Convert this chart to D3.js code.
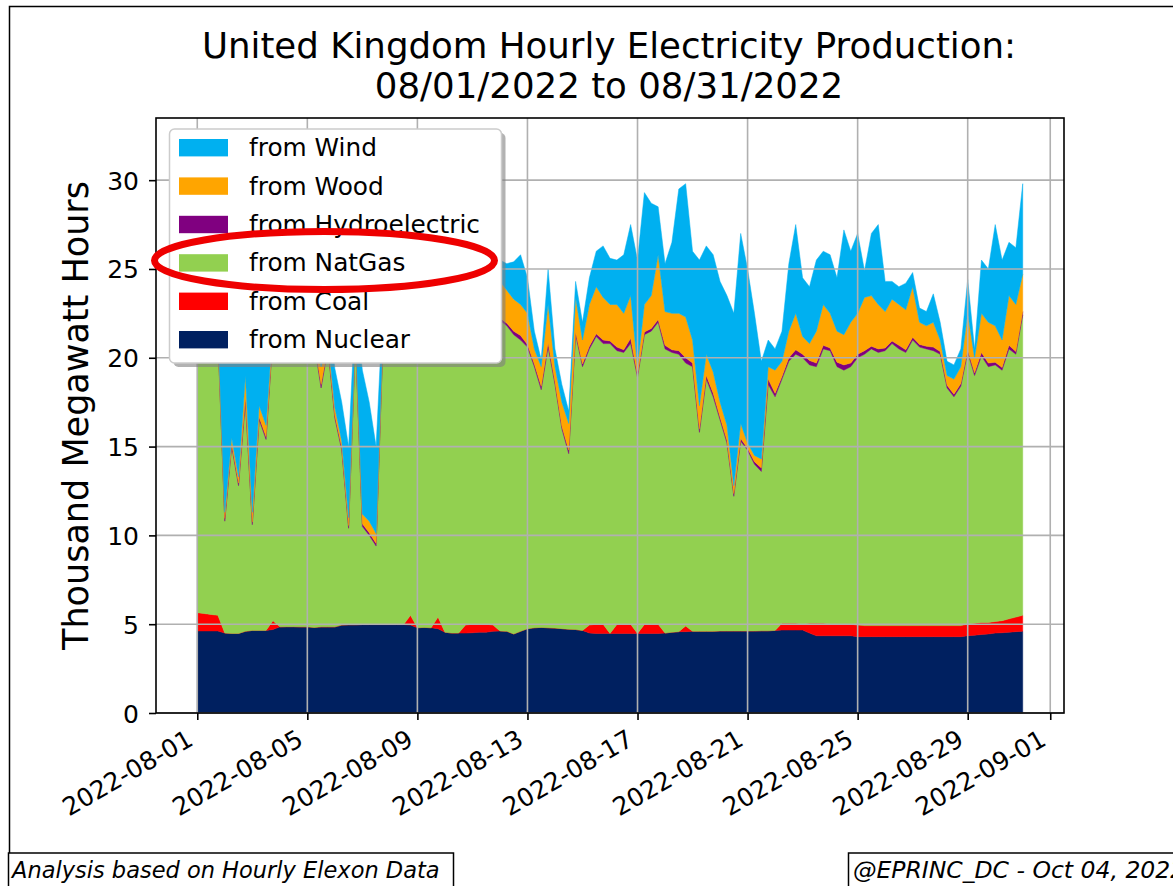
<!DOCTYPE html>
<html>
<head>
<meta charset="utf-8">
<script src="https://cdn.jsdelivr.net/npm/d3@7"></script>
<style>
  body { margin: 0; background: #fff; }
  svg text { font-family: "DejaVu Sans", sans-serif; fill: #000; }
</style>
</head>
<body>
<svg id="chart" width="1173" height="886"></svg>
<script>
// UK hourly production, sampled every 6 hours from 2022-08-01 00:00 (thousand MWh)
const startTime = "2022-08-01T00:00:00Z";
const stepHours = 6;

const nuclear = [
  4.62, 4.62, 4.62, 4.62, 4.5, 4.48, 4.48, 4.6, 4.65, 4.65, 4.65, 4.7,
  4.85, 4.86, 4.86, 4.85, 4.85, 4.82, 4.85, 4.85, 4.85, 4.95, 4.97, 4.97,
  4.98, 4.98, 4.98, 4.98, 4.98, 4.98, 4.98, 4.95, 4.8, 4.82, 4.8, 4.75,
  4.55, 4.5, 4.5, 4.5, 4.52, 4.55, 4.55, 4.6, 4.62, 4.6, 4.45, 4.6,
  4.75, 4.8, 4.82, 4.8, 4.78, 4.75, 4.72, 4.7, 4.65, 4.5, 4.48, 4.48,
  4.48, 4.48, 4.48, 4.48, 4.48, 4.48, 4.48, 4.48, 4.5, 4.55, 4.58, 4.58,
  4.6, 4.6, 4.6, 4.6, 4.62, 4.62, 4.62, 4.62, 4.62, 4.62, 4.63, 4.63,
  4.65, 4.67, 4.67, 4.67, 4.67, 4.5, 4.35, 4.35, 4.35, 4.35, 4.35, 4.35,
  4.3, 4.3, 4.3, 4.3, 4.3, 4.3, 4.3, 4.3, 4.3, 4.3, 4.3, 4.3,
  4.3, 4.3, 4.3, 4.3, 4.35, 4.38, 4.42, 4.45, 4.5, 4.52, 4.55, 4.58, 4.6
];
const coal = [
  1.03, 0.98, 0.93, 0.88, 0, 0, 0, 0, 0, 0, 0, 0.5,
  0, 0, 0, 0, 0, 0, 0, 0, 0, 0, 0, 0,
  0, 0, 0, 0, 0, 0, 0, 0.55, 0, 0, 0, 0.65,
  0, 0, 0, 0.45, 0.48, 0.45, 0.45, 0.35, 0, 0, 0, 0,
  0, 0, 0, 0, 0, 0, 0, 0, 0, 0.45, 0.52, 0.52,
  0, 0.5, 0.52, 0.52, 0, 0.5, 0.52, 0.52, 0, 0, 0, 0.32,
  0, 0, 0, 0, 0, 0, 0, 0, 0, 0, 0, 0,
  0, 0.38, 0.38, 0.38, 0.33, 0.55, 0.7, 0.7, 0.65, 0.65, 0.65, 0.65,
  0.65, 0.62, 0.62, 0.62, 0.62, 0.62, 0.62, 0.62, 0.62, 0.62, 0.62, 0.62,
  0.62, 0.62, 0.62, 0.62, 0.65, 0.67, 0.68, 0.65, 0.65, 0.68, 0.75, 0.82, 0.9
];
const natgas = [
  15.55, 15.7, 15.95, 15.7, 6.3, 10.52, 8.32, 12.9, 5.95, 11.85, 10.75, 16.0,
  16.65, 16.64, 16.54, 16.35, 16.35, 15.98, 13.45, 15.65, 11.75, 9.85, 5.43, 16.03,
  5.52, 5.02, 4.42, 16.02, 16.32, 16.52, 16.52, 15.8, 16.7, 16.78, 16.6, 16.1,
  17.05, 17.0, 17.3, 16.75, 16.9, 17.0, 16.8, 17.05, 17.48, 17.2, 16.85, 16.4,
  15.85, 14.7, 13.38, 15.8, 13.72, 11.25, 9.88, 16.6, 14.85, 15.55, 16.2, 15.8,
  16.32, 15.42, 15.3, 15.8, 14.42, 16.32, 16.5, 17.0, 16.0, 15.75, 15.62, 14.8,
  14.9, 11.2, 14.2, 13.2, 11.88, 10.58, 7.58, 10.68, 10.18, 9.38, 8.97, 13.87,
  13.15, 13.75, 14.75, 15.15, 15.0, 14.55, 14.45, 15.45, 15.4, 14.5, 14.3, 14.5,
  15.05, 15.28, 15.58, 15.38, 15.48, 15.88, 15.58, 15.38, 16.08, 15.68, 15.58, 15.48,
  15.28, 13.38, 12.88, 13.48, 15.3, 13.95, 15.0, 14.4, 14.45, 14.1, 15.2, 14.8, 16.9
];
const hydro = [
  0.15, 0.15, 0.15, 0.15, 0.15, 0.15, 0.15, 0.25, 0.15, 0.15, 0.15, 0.15,
  0.15, 0.15, 0.15, 0.15, 0.15, 0.15, 0.2, 0.15, 0.15, 0.15, 0.15, 0.15,
  0.15, 0.15, 0.15, 0.15, 0.15, 0.15, 0.15, 0.15, 0.15, 0.15, 0.15, 0.15,
  0.15, 0.15, 0.15, 0.15, 0.15, 0.15, 0.15, 0.15, 0.15, 0.15, 0.2, 0.25,
  0.15, 0.15, 0.2, 0.25, 0.15, 0.15, 0.2, 0.15, 0.15, 0.15, 0.15, 0.2,
  0.15, 0.2, 0.15, 0.3, 0.15, 0.15, 0.15, 0.15, 0.2, 0.15, 0.2, 0.3,
  0.2, 0.2, 0.2, 0.2, 0.15, 0.15, 0.15, 0.15, 0.1, 0.15, 0.2, 0.3,
  0.2, 0.15, 0.2, 0.25, 0.2, 0.25, 0.2, 0.2, 0.15, 0.25, 0.3, 0.2,
  0.2, 0.2, 0.15, 0.2, 0.15, 0.15, 0.2, 0.15, 0.15, 0.15, 0.15, 0.2,
  0.15, 0.15, 0.15, 0.15, 0.15, 0.15, 0.2, 0.2, 0.15, 0.15, 0.2, 0.15, 0.2
];
const wood = [
  0.35, 0.35, 0.35, 0.35, 0.35, 0.35, 0.35, 1.25, 0.55, 0.65, 0.65, 0.45,
  0.35, 0.45, 0.45, 0.45, 0.45, 0.35, 1.0, 0.35, 0.45, 0.35, 0.45, 0.35,
  0.55, 0.65, 0.55, 0.35, 0.55, 0.65, 0.75, 0.75, 0.85, 1.05, 1.05, 1.15,
  1.25, 1.55, 1.45, 1.35, 1.45, 1.65, 1.65, 1.85, 2.05, 1.85, 1.8, 1.75,
  1.75, 0.85, 1.1, 2.15, 0.85, 1.35, 1.5, 1.95, 1.35, 2.35, 2.65, 2.4,
  2.05, 2.4, 2.05, 2.4, 0.45, 1.55, 1.85, 3.65, 1.9, 2.05, 2.1, 2.3,
  1.3, 1.3, 1.2, 1.2, 0.85, 0.85, 0.45, 0.85, 0.3, 0.35, 0.5, 0.7,
  1.3, 0.85, 1.5, 2.05, 1.0, 0.95, 1.8, 2.3, 1.95, 1.75, 1.7, 2.3,
  2.3, 3.0, 2.85, 2.5, 2.05, 2.35, 2.3, 2.25, 2.85, 1.25, 1.15, 1.4,
  0.65, 0.55, 0.85, 0.95, 2.05, 0.85, 2.2, 2.3, 2.05, 1.55, 2.8, 2.65, 2.1
];
const wind = [
  1.3, 1.4, 1.5, 1.3, 10.7, 7.0, 8.7, 3.8, 11.2, 5.7, 7.3, 2.2,
  2.0, 2.1, 2.0, 2.0, 2.0, 2.2, 2.5, 2.0, 2.2, 2.2, 4.0, 1.5,
  8.1, 6.7, 4.9, 1.5, 2.0, 2.2, 2.4, 2.3, 2.5, 2.4, 2.4, 2.5,
  2.5, 2.4, 2.4, 2.3, 2.3, 2.2, 2.1, 1.8, 1.2, 1.5, 2.1, 2.8,
  2.0, 1.0, 0.4, 2.0, 1.0, 1.0, 0.7, 0.9, 1.0, 1.5, 2.0, 2.9,
  2.6, 2.5, 3.3, 4.0, 6.0, 6.3, 5.2, 2.7, 2.7, 4.0, 7.0, 7.5,
  5.0, 8.2, 6.1, 6.6, 6.8, 7.3, 9.7, 10.7, 9.8, 8.0, 5.5, 1.5,
  1.2, 1.7, 3.8, 5.0, 3.3, 3.2, 4.0, 3.0, 3.3, 3.0, 5.9, 4.0,
  4.5, 1.5, 3.5, 4.5, 1.7, 1.0, 1.0, 1.5, 0.8, 0.8, 0.8, 1.6,
  1.0, 0.8, 0.8, 1.0, 1.9, 0.5, 3.0, 3.0, 5.7, 4.5, 3.0, 3.2, 5.1
];

// stacking order bottom -> top, legend shows it reversed
const sources = ["nuclear", "coal", "natgas", "hydro", "wood", "wind"];
const labels = {
  nuclear: "from Nuclear", coal: "from Coal", natgas: "from NatGas",
  hydro: "from Hydroelectric", wood: "from Wood", wind: "from Wind"
};
const colors = {
  nuclear: "#002060", coal: "#ff0000", natgas: "#92d050",
  hydro: "#800080", wood: "#ffa500", wind: "#00b0f0"
};
const tickDates = ["2022-08-01", "2022-08-05", "2022-08-09", "2022-08-13", "2022-08-17",
                   "2022-08-21", "2022-08-25", "2022-08-29", "2022-09-01"];
const yTicks = [0, 5, 10, 15, 20, 25, 30];

const t0 = new Date(startTime);
const rows = nuclear.map((v, i) => ({
  date: new Date(t0.getTime() + i * stepHours * 3600 * 1000),
  nuclear: v, coal: coal[i], natgas: natgas[i],
  hydro: hydro[i], wood: wood[i], wind: wind[i]
}));

const svg = d3.select("#chart");
const plot = { left: 156, right: 1064, top: 118, bottom: 713 };

// outer figure frame
svg.append("rect").attr("x", 9.5).attr("y", 6.5).attr("width", 1200).attr("height", 900)
  .attr("fill", "none").attr("stroke", "#000").attr("stroke-width", 1.5);

const x = d3.scaleUtc()
  .domain([new Date("2022-07-30T12:00:00Z"), new Date("2022-09-01T12:00:00Z")])
  .range([plot.left, plot.right]);
const y = d3.scaleLinear().domain([0, 33.5]).range([plot.bottom, plot.top]);

const series = d3.stack().keys(sources)(rows);

const area = d3.area()
  .x(d => x(d.data.date))
  .y0(d => y(d[0]))
  .y1(d => y(d[1]));

svg.append("g")
  .selectAll("path")
  .data(series)
  .join("path")
  .attr("fill", d => colors[d.key])
  .attr("stroke", d => colors[d.key])
  .attr("stroke-width", 0.5)
  .attr("d", area);

// grid on top of the areas, like the original
const grid = svg.append("g").attr("stroke", "#b0b0b0").attr("stroke-width", 1.6);
grid.selectAll(".gx").data(tickDates).join("line")
  .attr("x1", d => x(new Date(d + "T00:00:00Z"))).attr("x2", d => x(new Date(d + "T00:00:00Z")))
  .attr("y1", plot.top).attr("y2", plot.bottom);
grid.selectAll(".gy").data(yTicks).join("line")
  .attr("x1", plot.left).attr("x2", plot.right)
  .attr("y1", d => y(d)).attr("y2", d => y(d));

// frame of the axes
svg.append("rect")
  .attr("x", plot.left).attr("y", plot.top)
  .attr("width", plot.right - plot.left).attr("height", plot.bottom - plot.top)
  .attr("fill", "none").attr("stroke", "#000").attr("stroke-width", 1.6);

// x axis
const xAxis = svg.append("g")
  .attr("transform", `translate(0,${plot.bottom})`)
  .call(d3.axisBottom(x)
    .tickValues(tickDates.map(d => new Date(d + "T00:00:00Z")))
    .tickFormat(d3.utcFormat("%Y-%m-%d"))
    .tickSize(7).tickSizeOuter(0));
xAxis.select(".domain").remove();
xAxis.selectAll(".tick line").attr("stroke", "#000").attr("stroke-width", 1.6);
xAxis.selectAll(".tick text")
  .attr("font-size", 25)
  .attr("text-anchor", "end")
  .attr("y", 0).attr("dy", 0)
  .attr("transform", "translate(-3,31) rotate(-30)");

// y axis
const yAxis = svg.append("g")
  .attr("transform", `translate(${plot.left},0)`)
  .call(d3.axisLeft(y).tickValues(yTicks).tickSize(7).tickSizeOuter(0));
yAxis.select(".domain").remove();
yAxis.selectAll(".tick line").attr("stroke", "#000").attr("stroke-width", 1.6);
yAxis.selectAll(".tick text").attr("font-size", 25).attr("x", -17).attr("dy", "0.36em");

svg.append("text")
  .attr("transform", `translate(88,${(plot.top + plot.bottom) / 2}) rotate(-90)`)
  .attr("text-anchor", "middle")
  .attr("font-size", 35)
  .text("Thousand Megawatt Hours");

// title
const title = svg.append("text").attr("text-anchor", "middle").attr("font-size", 35.6);
title.append("tspan").attr("x", 609).attr("y", 57.5).text("United Kingdom Hourly Electricity Production:");
title.append("tspan").attr("x", 609).attr("y", 98).text("08/01/2022 to 08/31/2022");

// legend with shadow
const leg = svg.append("g");
const lg = { x: 169.5, y: 129, w: 332, h: 234 };
leg.append("rect").attr("x", lg.x + 4).attr("y", lg.y + 4).attr("width", lg.w).attr("height", lg.h)
  .attr("rx", 5).attr("fill", "#7f7f7f").attr("opacity", 0.6);
leg.append("rect").attr("x", lg.x).attr("y", lg.y).attr("width", lg.w).attr("height", lg.h)
  .attr("rx", 5).attr("fill", "#fff").attr("stroke", "#cccccc").attr("stroke-width", 1.5);
const legendKeys = sources.slice().reverse();
const item = leg.selectAll(".item").data(legendKeys).join("g")
  .attr("transform", (d, i) => `translate(0,${147.7 + i * 38.4})`);
item.append("rect").attr("x", 179).attr("y", -8.7).attr("width", 49).attr("height", 17.4)
  .attr("fill", d => colors[d]);
item.append("text").attr("x", 249).attr("y", 8.5).attr("font-size", 24.8).text(d => labels[d]);

// red ellipse drawn over the NatGas entry
svg.append("ellipse").attr("cx", 324.5).attr("cy", 260.5).attr("rx", 170).attr("ry", 29)
  .attr("fill", "none").attr("stroke", "#ee0000").attr("stroke-width", 7);

// footer notes
const foot = svg.append("g");
foot.append("rect").attr("x", 8.5).attr("y", 853).attr("width", 445).attr("height", 60)
  .attr("fill", "#fff").attr("stroke", "#000").attr("stroke-width", 1.5);
foot.append("text").attr("x", 12).attr("y", 878).attr("font-size", 22.5).attr("font-style", "italic")
  .text("Analysis based on Hourly Elexon Data");
foot.append("rect").attr("x", 848.5).attr("y", 853).attr("width", 400).attr("height", 60)
  .attr("fill", "#fff").attr("stroke", "#000").attr("stroke-width", 1.5);
foot.append("text").attr("x", 853).attr("y", 878).attr("font-size", 23.5).attr("font-style", "italic")
  .text("@EPRINC_DC - Oct 04, 2022");
</script>
</body>
</html>
